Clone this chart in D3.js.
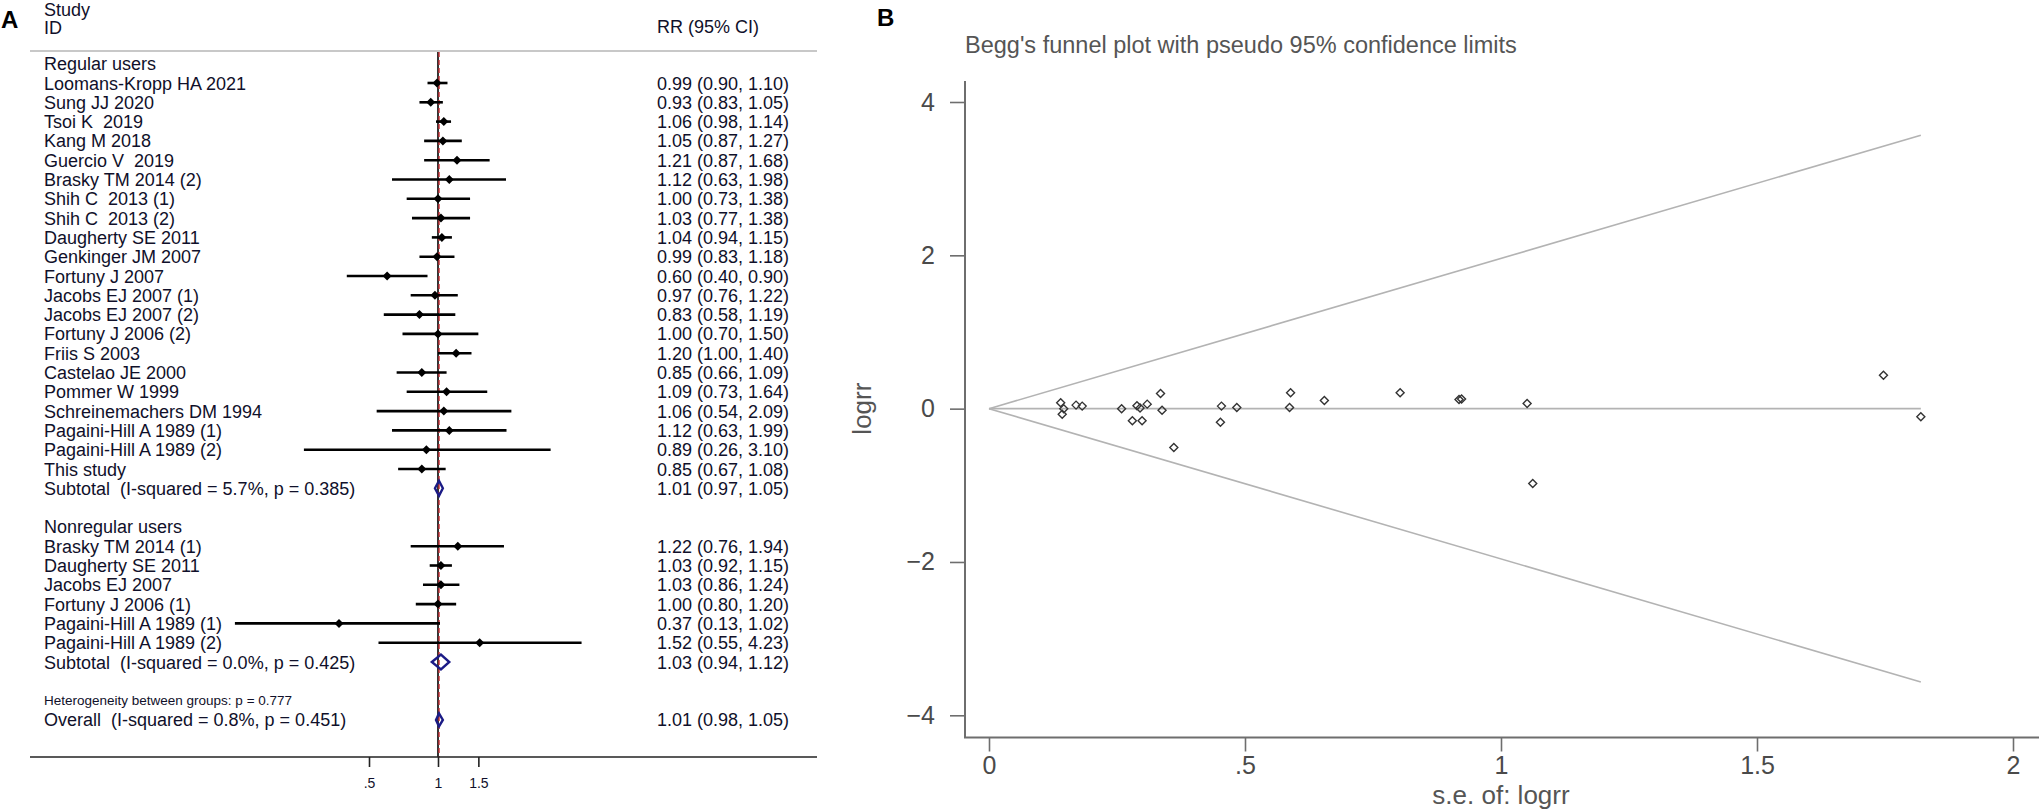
<!DOCTYPE html>
<html><head><meta charset="utf-8">
<script src="https://cdn.jsdelivr.net/npm/d3@7"></script>
<style>
body{margin:0;background:#fff}
svg{display:block}
text{font-family:"Liberation Sans",Arial,Helvetica,sans-serif}
</style>
</head><body>
<svg id="c" width="2039" height="809"></svg>
<script>
// ---------- Panel A data (forest plot) ----------
const rowLabels = [
  "Regular users",
  "Loomans-Kropp HA 2021","Sung JJ 2020","Tsoi K  2019","Kang M 2018","Guercio V  2019",
  "Brasky TM 2014 (2)","Shih C  2013 (1)","Shih C  2013 (2)","Daugherty SE 2011","Genkinger JM 2007",
  "Fortuny J 2007","Jacobs EJ 2007 (1)","Jacobs EJ 2007 (2)","Fortuny J 2006 (2)","Friis S 2003",
  "Castelao JE 2000","Pommer W 1999","Schreinemachers DM 1994","Pagaini-Hill A 1989 (1)","Pagaini-Hill A 1989 (2)",
  "This study","Subtotal  (I-squared = 5.7%, p = 0.385)","",
  "Nonregular users",
  "Brasky TM 2014 (1)","Daugherty SE 2011","Jacobs EJ 2007","Fortuny J 2006 (1)","Pagaini-Hill A 1989 (1)",
  "Pagaini-Hill A 1989 (2)","Subtotal  (I-squared = 0.0%, p = 0.425)","",
  "Heterogeneity between groups: p = 0.777",
  "Overall  (I-squared = 0.8%, p = 0.451)"
];
const rowTypes = [
  "group",
  "study","study","study","study","study","study","study","study","study","study",
  "study","study","study","study","study","study","study","study","study","study",
  "study","subtotal","blank",
  "group",
  "study","study","study","study","study","study","subtotal","blank",
  "het","overall"
];
const rrEst = [null,
  0.99,0.93,1.06,1.05,1.21,1.12,1.00,1.03,1.04,0.99,
  0.60,0.97,0.83,1.00,1.20,0.85,1.09,1.06,1.12,0.89,
  0.85,1.01,null,null,
  1.22,1.03,1.03,1.00,0.37,1.52,1.03,null,null,1.01];
const rrLow = [null,
  0.90,0.83,0.98,0.87,0.87,0.63,0.73,0.77,0.94,0.83,
  0.40,0.76,0.58,0.70,1.00,0.66,0.73,0.54,0.63,0.26,
  0.67,0.97,null,null,
  0.76,0.92,0.86,0.80,0.13,0.55,0.94,null,null,0.98];
const rrHigh = [null,
  1.10,1.05,1.14,1.27,1.68,1.98,1.38,1.38,1.15,1.18,
  0.90,1.22,1.19,1.50,1.40,1.09,1.64,2.09,1.99,3.10,
  1.08,1.05,null,null,
  1.94,1.15,1.24,1.20,1.02,4.23,1.12,null,null,1.05];
const forestTicks = [0.5, 1, 1.5];
const forestTickLabels = [".5", "1", "1.5"];
const overallRR = 1.01;

// ---------- Panel B data (Begg's funnel plot) ----------
const seLogrr = [0.140,0.146,0.143,0.170,0.182,0.259,0.280,0.289,0.295,0.299,
  0.309,0.335,0.338,0.361,0.454,0.452,0.484,0.589,0.587,0.655,
  0.803,0.918,0.923,1.051,1.062,1.747,1.820];
const logrr = [0.076,0.000,-0.072,0.046,0.033,0.000,-0.159,0.037,0.007,-0.159,
  0.059,0.198,-0.020,-0.507,0.033,-0.176,0.015,0.207,0.015,0.107,
  0.207,0.118,0.126,0.068,-0.977,0.437,-0.107];
const funnelSe = [0, 1.82];
const funnelUpper = [0, 3.567];
const funnelLower = [0, -3.567];
const funnelCenter = [0, 0];
const funnelYTicks = [-4,-2,0,2,4];
const funnelXTicks = [0,0.5,1,1.5,2];
const funnelXTickLabels = ["0",".5","1","1.5","2"];

const svg = d3.select("#c");
const ink = "#10102a";

// ================= Panel A =================
const gA = svg.append("g");
const xF = d3.scaleLog().domain([0.5, 1]).range([369, 438]);
const yRow = d3.scaleLinear().domain([0, 34]).range([63.7, 719.9]);
const axisY = 757;

gA.append("text").attr("x", 1).attr("y", 28).attr("font-size", 24).attr("font-weight", "bold").attr("fill", "#000").text("A");
gA.append("text").attr("x", 44).attr("y", 15.5).attr("font-size", 18).attr("fill", ink).text("Study");
gA.append("text").attr("x", 44).attr("y", 34).attr("font-size", 18).attr("fill", ink).text("ID");
gA.append("text").attr("x", 657).attr("y", 33).attr("font-size", 18).attr("fill", ink).text("RR (95% CI)");
gA.append("line").attr("x1", 30).attr("x2", 817).attr("y1", 51).attr("y2", 51).attr("stroke", "#c8c8c8").attr("stroke-width", 2);

// reference lines
gA.append("line").attr("x1", xF(1)).attr("x2", xF(1)).attr("y1", 52).attr("y2", axisY)
  .attr("stroke", "#000").attr("stroke-width", 1.6);
gA.append("line").attr("x1", xF(overallRR)).attr("x2", xF(overallRR)).attr("y1", 52).attr("y2", axisY)
  .attr("stroke", "#c0282d").attr("stroke-width", 1.4).attr("stroke-dasharray", "5,3");

const rows = rowLabels.map((l, i) => ({l, t: rowTypes[i], e: rrEst[i], lo: rrLow[i], hi: rrHigh[i], i}));

// labels
gA.selectAll("text.lab").data(rows.filter(r => r.t !== "blank")).join("text")
  .attr("class", "lab")
  .attr("x", 44)
  .attr("y", r => yRow(r.i) + (r.t === "het" ? 4.5 : 6.5))
  .attr("font-size", r => r.t === "het" ? 13.5 : 18)
  .attr("fill", ink)
  .style("white-space", "pre")
  .text(r => r.l);

// RR text
const fmt = v => v.toFixed(2);
gA.selectAll("text.rr").data(rows.filter(r => r.e != null)).join("text")
  .attr("class", "rr")
  .attr("x", 657)
  .attr("y", r => yRow(r.i) + 6.5)
  .attr("font-size", 18)
  .attr("fill", ink)
  .text(r => `${fmt(r.e)} (${fmt(r.lo)}, ${fmt(r.hi)})`);

// CI lines and point markers
const studies = rows.filter(r => r.t === "study");
gA.selectAll("line.ci").data(studies).join("line")
  .attr("class", "ci")
  .attr("x1", r => xF(r.lo)).attr("x2", r => xF(r.hi))
  .attr("y1", r => yRow(r.i)).attr("y2", r => yRow(r.i))
  .attr("stroke", "#000").attr("stroke-width", 2.6);
gA.selectAll("path.pt").data(studies).join("path")
  .attr("class", "pt")
  .attr("d", r => { const x = xF(r.e), y = yRow(r.i); return `M${x-4.5},${y}L${x},${y-4.5}L${x+4.5},${y}L${x},${y+4.5}Z`; })
  .attr("fill", "#000");

// pooled diamonds
const pooled = rows.filter(r => r.t === "subtotal" || r.t === "overall");
gA.selectAll("path.dia").data(pooled).join("path")
  .attr("class", "dia")
  .attr("d", r => { const y = yRow(r.i), h = r.t === "overall" ? 6.5 : 7.5;
    return `M${xF(r.lo)},${y}L${xF(r.e)},${y-h}L${xF(r.hi)},${y}L${xF(r.e)},${y+h}Z`; })
  .attr("fill", "none").attr("stroke", "#1b1b86").attr("stroke-width", 2.4);

// x axis
gA.append("line").attr("x1", 30).attr("x2", 817).attr("y1", axisY).attr("y2", axisY).attr("stroke", "#222").attr("stroke-width", 1.6);
const axF = d3.axisBottom(xF).tickValues(forestTicks).tickFormat((d, i) => forestTickLabels[i]).tickSize(10).tickPadding(11);
const gAx = gA.append("g").attr("transform", `translate(0,${axisY})`).call(axF);
gAx.select(".domain").remove();
gAx.selectAll(".tick line").attr("stroke", "#222").attr("stroke-width", 1.6);
gAx.selectAll(".tick text").attr("font-size", 14).attr("fill", ink).attr("font-family", '"Liberation Sans",Arial,sans-serif');

// ================= Panel B =================
const gB = svg.append("g");
const xS = d3.scaleLinear().domain([0, 0.5]).range([989, 1245]);
const yL = d3.scaleLinear().domain([-4, 4]).range([715.3, 102]);
const axisCol = "#6e6e6e", labCol = "#4a4a4a";

gB.append("text").attr("x", 877).attr("y", 26).attr("font-size", 24).attr("font-weight", "bold").attr("fill", "#000").text("B");
gB.append("text").attr("x", 965).attr("y", 53).attr("font-size", 23.5).attr("fill", "#555").text("Begg's funnel plot with pseudo 95% confidence limits");

// funnel lines
const lineGen = (ys) => d3.line().x((d, i) => xS(funnelSe[i])).y((d) => yL(d))(ys);
[funnelUpper, funnelLower, funnelCenter].forEach(arr => {
  gB.append("path").attr("d", lineGen(arr)).attr("fill", "none").attr("stroke", "#b3b3b3").attr("stroke-width", 1.6);
});

// axes
const axY = d3.axisLeft(yL).tickValues(funnelYTicks).tickFormat(d3.format("d")).tickSize(15).tickPadding(15);
const gY = gB.append("g").attr("transform", "translate(965,0)").call(axY);
gY.select(".domain").remove();
gY.selectAll(".tick line").attr("stroke", axisCol).attr("stroke-width", 1.6);
gY.selectAll(".tick text").attr("font-size", 25).attr("fill", labCol).attr("font-family", '"Liberation Sans",Arial,sans-serif');
gB.append("line").attr("x1", 965).attr("x2", 965).attr("y1", 81).attr("y2", 738).attr("stroke", axisCol).attr("stroke-width", 2);

const axX = d3.axisBottom(xS).tickValues(funnelXTicks).tickFormat((d, i) => funnelXTickLabels[i]).tickSize(14).tickPadding(5);
const gX = gB.append("g").attr("transform", "translate(0,737.5)").call(axX);
gX.select(".domain").remove();
gX.selectAll(".tick line").attr("stroke", axisCol).attr("stroke-width", 1.6);
gX.selectAll(".tick text").attr("font-size", 25).attr("fill", labCol).attr("font-family", '"Liberation Sans",Arial,sans-serif');
gB.append("line").attr("x1", 964).attr("x2", 2039).attr("y1", 737.5).attr("y2", 737.5).attr("stroke", axisCol).attr("stroke-width", 2);

gB.append("text").attr("x", xS(1)).attr("y", 804).attr("text-anchor", "middle").attr("font-size", 26).attr("fill", "#555").text("s.e. of: logrr");
gB.append("text").attr("transform", `translate(871,${yL(0)}) rotate(-90)`).attr("text-anchor", "middle").attr("font-size", 26).attr("fill", "#555").text("logrr");

// points
gB.selectAll("path.fp").data(seLogrr.map((s, i) => [s, logrr[i]])).join("path")
  .attr("class", "fp")
  .attr("d", d => { const x = xS(d[0]), y = yL(d[1]); return `M${x-4},${y}L${x},${y-4}L${x+4},${y}L${x},${y+4}Z`; })
  .attr("fill", "none").attr("stroke", "#333").attr("stroke-width", 1.4);
</script>
</body></html>
